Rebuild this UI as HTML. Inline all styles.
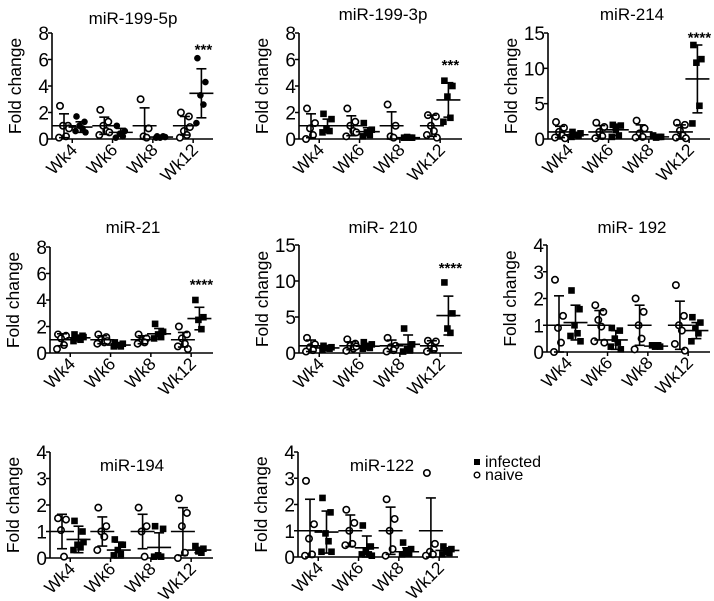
<!DOCTYPE html>
<html><head><meta charset="utf-8">
<style>
html,body{margin:0;padding:0;background:#fff;}
svg{display:block;font-family:"Liberation Sans",Arial,sans-serif;}
</style></head>
<body>
<svg id="chart" width="714" height="601" viewBox="0 0 714 601" xmlns="http://www.w3.org/2000/svg"></svg>
<script>
const weeks = ["Wk4","Wk6","Wk8","Wk12"];
const titles = ["miR-199-5p","miR-199-3p","miR-214","miR-21","miR- 210","miR- 192","miR-194","miR-122"];
const yMaxes = [8,8,15,8,15,4,4,4];
const yTickLabels = [[0,2,4,6,8],[0,2,4,6,8],[0,5,10,15],[0,2,4,6,8],[0,5,10,15],[0,1,2,3,4],[0,1,2,3,4],[0,1,2,3,4]];
const starLabels = ["***","***","****","****","****","","",""];
const starValues = [7.0,5.8,14.8,5.4,12.2,0,0,0];
const naivePoints = [
 [[2.5,1.0,1.0,0.2,0.1,0.8],[2.2,1.3,1.0,0.6,0.3,0.5],[3.0,0.8,0.2,0.1],[2.0,1.7,0.6,0.3,0.1,0.9]],
 [[2.3,1.2,0.8,0.3,0.0],[2.3,1.3,1.0,0.6,0.2,0.5],[2.6,1.0,0.2,0.1],[1.8,1.7,1.0,0.6,0.3,0.1]],
 [[2.4,1.6,1.0,0.5,0.2,0.1],[2.3,1.7,1.0,0.4,0.1],[2.6,1.5,0.8,0.3,0.2],[2.3,2.0,1.2,0.5,0.2,0.1]],
 [[1.4,1.3,1.1,0.6,0.3],[1.4,1.2,1.0,0.8,0.7,0.9],[1.4,1.1,0.9,0.8,0.7],[2.0,1.4,1.1,0.7,0.5,0.3]],
 [[2.1,1.2,0.8,0.4,0.2],[1.9,1.3,1.0,0.6,0.3,0.9],[2.1,1.0,0.8,0.4,0.2],[1.7,1.6,1.0,0.5,0.2]],
 [[2.7,1.35,0.9,0.35,0.0],[1.75,1.5,1.2,0.95,0.4,0.35],[2.0,1.5,1.0,0.5,0.1],[2.5,1.35,1.0,0.8,0.3,0.05]],
 [[1.5,1.45,1.05,0.05],[1.9,1.2,1.0,0.8,0.3],[1.9,1.2,1.0,0.05],[2.25,1.7,1.2,0.2,0.0]],
 [[2.9,1.25,0.7,0.1,0.05],[1.8,1.3,1.0,0.5,0.45],[2.2,1.45,1.0,0.3,0.05],[3.2,0.5,0.2,0.1,0.05]]
];
const infectedPoints = [
 [[1.7,1.3,1.0,0.8,0.6,0.5],[1.0,0.6,0.4,0.2,0.1],[0.2,0.15,0.1,0.2,0.1],[6.1,4.3,3.3,2.6,1.2]],
 [[1.9,1.5,0.8,0.6,0.5],[1.2,0.7,0.5,0.3,0.2],[0.1,0.1,0.15,0.1],[4.4,4.0,3.2,1.6,1.3]],
 [[1.0,0.8,0.6,0.4,0.3],[2.0,1.9,1.3,0.5,0.3],[0.5,0.3,0.2,0.3],[13.3,11.3,10.8,4.7,2.2]],
 [[1.4,1.3,1.1,1.0,0.9,1.2],[0.8,0.7,0.6,0.5,0.5],[2.2,1.6,1.4,1.2,1.1],[4.0,2.7,2.5,1.8]],
 [[1.0,0.8,0.7,0.6,0.5],[1.5,1.2,0.9,0.7,0.6],[3.4,1.2,0.6,0.4,0.2],[9.8,5.5,3.4,2.8]],
 [[2.3,1.6,1.0,0.7,0.6,0.4],[0.9,0.8,0.5,0.35,0.2,0.1],[0.25,0.2,0.2,0.25],[1.3,1.1,0.9,0.7,0.4]],
 [[1.4,1.0,0.5,0.4,0.3,0.6],[0.7,0.5,0.3,0.15,0.1],[1.2,1.1,0.1,0.05,0.05],[0.45,0.35,0.25,0.2]],
 [[2.25,1.7,0.9,0.6,0.2,0.2],[1.2,0.4,0.2,0.1,0.1,0.05],[0.55,0.3,0.2,0.15,0.1],[0.4,0.3,0.2,0.15,0.1]]
];
const naiveMeans = [[1,1,1,1],[1,1,1,1],[1,1,1,1],[1,1,1,1],[1,1,1,1],[1,1,1,1],[1,1,1,1],[1,1,1,1]];
const naiveSDs = [[0.9,0.65,1.35,0.7],[0.9,0.75,1.05,0.8],[0.8,0.9,1.0,1.0],[0.45,0.3,0.3,0.55],[0.8,0.55,0.8,0.7],[1.1,0.55,0.75,0.9],[0.65,0.55,0.65,0.9],[1.2,0.6,0.9,1.25]];
const infectedMeans = [[0.9,0.5,0.15,3.45],[1.0,0.55,0.1,2.95],[0.6,1.3,0.3,8.5],[1.15,0.6,1.45,2.6],[0.7,0.95,1.2,5.2],[1.1,0.45,0.22,0.8],[0.7,0.3,0.4,0.3],[0.95,0.35,0.2,0.25]];
const infectedSDs = [[0.4,0.3,0.05,1.85],[0.5,0.3,0.02,1.3],[0.3,0.8,0.1,4.8],[0.2,0.15,0.4,0.85],[0.2,0.4,1.3,2.7],[0.65,0.35,0.03,0.3],[0.5,0.3,0.55,0.1],[0.8,0.45,0.15,0.1]];

const layout = [
 {ax:52,top:33,zero:139,end:213,ty:24,tx:133},
 {ax:299,top:33,zero:139,end:462,ty:20,tx:383},
 {ax:548,top:33,zero:139,end:710,ty:20,tx:632},
 {ax:50,top:247,zero:353,end:213,ty:233,tx:133},
 {ax:299,top:245,zero:353,end:462,ty:233,tx:383},
 {ax:547,top:245,zero:352,end:710,ty:233,tx:632},
 {ax:50,top:452,zero:558,end:213,ty:471,tx:132},
 {ax:298,top:452,zero:557,end:458,ty:471,tx:382}
];
const jitter=[-4,4,-1,2,-5,5,0];
const svg=document.getElementById('chart');
const NS='http://www.w3.org/2000/svg';
function mk(tag,attrs,parent){const e=document.createElementNS(NS,tag);for(const k in attrs)e.setAttribute(k,attrs[k]);(parent||svg).appendChild(e);return e;}

titles.forEach((title,p)=>{
  const L=layout[p];
  const g=mk('g',{});
  
  
  const yS=v=>L.zero-(v/yMaxes[p])*(L.zero-L.top);
  const xN=i=>L.ax+12+40.3*i;
  const xI=i=>xN(i)+16.5;
  const t=mk('text',{x:L.tx,y:L.ty,'text-anchor':'middle','font-size':'17'},g);t.textContent=title;
  
  
  const yl=mk('text',{x:0,y:0,'text-anchor':'middle','font-size':'17.5',transform:`translate(${L.ax-31},${(L.top+L.zero)/2}) rotate(-90)`},g);yl.textContent='Fold change';
  
  
  const ya=mk('line',{x1:L.ax,y1:L.top,x2:L.ax,y2:L.zero,stroke:'#000','stroke-width':1.6},g);
  
  
  const xa=mk('line',{x1:L.ax,y1:L.zero,x2:L.end,y2:L.zero,stroke:'#000','stroke-width':1.6},g);
  
  
  yTickLabels[p].forEach(v=>{
    mk('line',{x1:L.ax-4,y1:yS(v),x2:L.ax,y2:yS(v),stroke:'#000','stroke-width':1.5},g);
    const tl=mk('text',{x:L.ax-3,y:yS(v)+7,'text-anchor':'end','font-size':'19'},g);tl.textContent=v;
    
    
  });
  weeks.forEach((w,i)=>{
    const c=(xN(i)+xI(i))/2;
    mk('line',{x1:c,y1:L.zero,x2:c,y2:L.zero+4,stroke:'#000','stroke-width':1.5},g);
    const xl=mk('text',{x:0,y:0,'text-anchor':'end','font-size':'17.5',transform:`translate(${c+6},${L.zero+12}) rotate(-45)`},g);xl.textContent=w;
    
    
    naivePoints[p][i].forEach((v,k)=>{
      const m=mk('circle',{cx:xN(i)+jitter[k%7],cy:yS(v),r:3.2,fill:'#fff',stroke:'#000','stroke-width':1.6},g);
      
      
    });
    infectedPoints[p][i].forEach((v,k)=>{
      let m;
      if(p===0) m=mk('circle',{cx:xI(i)+jitter[k%7],cy:yS(v),r:3.3,fill:'#000'},g);
      else m=mk('rect',{x:xI(i)+jitter[k%7]-3.3,y:yS(v)-3.3,width:6.6,height:6.6,fill:'#000'},g);
      
      
    });
    [[xN(i),naiveMeans[p][i],naiveSDs[p][i],'naive'],[xI(i),infectedMeans[p][i],infectedSDs[p][i],'infected']].forEach(([x,mn,sd,nm])=>{
      const eb=mk('g',{stroke:'#000','stroke-width':1.6},g);
      
      
      const lo=Math.max(0,mn-sd),hi=mn+sd;
      mk('line',{x1:x,y1:yS(lo),x2:x,y2:yS(hi)},eb);
      mk('line',{x1:x-5,y1:yS(hi),x2:x+5,y2:yS(hi)},eb);
      mk('line',{x1:x-5,y1:yS(lo),x2:x+5,y2:yS(lo)},eb);
      mk('line',{x1:x-12,y1:yS(mn),x2:x+12,y2:yS(mn)},eb);
    });
  });
  if(starLabels[p]){
    const s=mk('text',{x:xI(3)+2,y:yS(starValues[p])+8,'text-anchor':'middle','font-size':'15','font-weight':'bold'},g);s.textContent=starLabels[p];
    
    
  }
});
const lg=mk('g',{});


const li=mk('g',{},lg);


mk('rect',{x:474,y:459,width:6,height:6,fill:'#000'},li);
const lt1=mk('text',{x:485,y:467,'font-size':'16'},li);lt1.textContent='infected';
const ln=mk('g',{},lg);


mk('circle',{cx:477,cy:475,r:2.8,fill:'#fff',stroke:'#000','stroke-width':1.4},ln);
const lt2=mk('text',{x:485,y:480,'font-size':'16'},ln);lt2.textContent='naive';
</script>
</body></html>
